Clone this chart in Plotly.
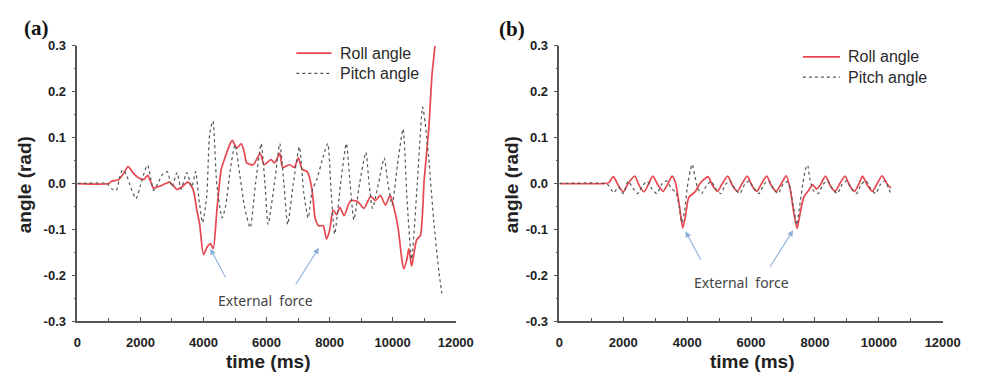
import plotly.graph_objects as go

# ---------------- data ----------------
# Panel (a)
t_roll_a = [0, 1000, 1085, 1300, 1450, 1610, 1780, 1950, 2110, 2230, 2320, 2420, 2640, 2800, 2920,
            3050, 3160, 3320, 3500, 3630, 3700, 3780, 3880, 4000, 4120, 4220, 4310, 4430, 4560,
            4660, 4800, 4910, 5060, 5200, 5300, 5370, 5580, 5800, 5920, 6140, 6260, 6420, 6510,
            6730, 6880, 7010, 7130, 7290, 7440, 7540, 7650, 7800, 7900, 8000, 8110, 8220, 8320,
            8460, 8600, 8680, 8890, 9090, 9300, 9450, 9610, 9770, 9920, 10020, 10170, 10290,
            10350, 10450, 10510, 10600, 10660, 10760, 10880, 11000, 11140, 11250, 11340, 11400]
roll_a = [0, 0, 0.005, 0.008, 0.02, 0.037, 0.022, 0.012, 0.009, 0.018, 0.005, -0.01, -0.005, 0.0,
          0.003, -0.005, -0.013, -0.007, 0.003, -0.007, -0.02, -0.054, -0.089, -0.155, -0.138,
          -0.131, -0.142, -0.054, 0.03, 0.052, 0.079, 0.094, 0.077, 0.087, 0.066, 0.045, 0.041,
          0.066, 0.041, 0.052, 0.045, 0.066, 0.035, 0.041, 0.035, 0.056, 0.031, 0.026, -0.012,
          -0.075, -0.092, -0.092, -0.121, -0.102, -0.058, -0.068, -0.052, -0.07, -0.045, -0.037,
          -0.039, -0.054, -0.028, -0.037, -0.026, -0.047, -0.026, -0.047, -0.096, -0.165, -0.186,
          -0.165, -0.142, -0.18, -0.159, -0.123, -0.113, 0.009, 0.115, 0.24, 0.3, 0.38]

t_pitch_a = [0, 950, 1000, 1100, 1240, 1330, 1430, 1550, 1700, 1860, 2000, 2150, 2230, 2330, 2420,
             2550, 2700, 2850, 3000, 3160, 3290, 3470, 3630, 3750, 3850, 3970, 4100, 4200, 4300,
             4420, 4590, 4700, 4850, 5000, 5150, 5300, 5480, 5650, 5830, 5950, 6050, 6250, 6420,
             6550, 6670, 6850, 7040, 7180, 7320, 7450, 7600, 7800, 7940, 8050, 8160, 8350, 8530,
             8650, 8770, 8950, 9150, 9250, 9360, 9550, 9730, 9850, 9980, 10150, 10330, 10450,
             10600, 10780, 10950, 11050, 11140, 11300, 11470, 11520, 11560]
pitch_a = [0, 0, -0.005, -0.012, -0.015, 0.01, 0.03, 0.02, -0.01, -0.033, -0.005, 0.03, 0.04, 0.01,
           -0.015, 0.0, 0.02, 0.026, -0.007, 0.024, -0.012, 0.024, -0.007, 0.026, -0.03, -0.085,
           -0.03, 0.11, 0.136, 0.0, -0.075, -0.05, 0.03, 0.085, 0.02, -0.05, -0.096, 0.0, 0.087,
           0.0, -0.089, 0.0, 0.087, 0.0, -0.089, 0.0, 0.08, -0.02, -0.075, -0.015, 0.01, 0.06,
           0.087, -0.02, -0.11, 0.0, 0.087, 0.0, -0.079, 0.0, 0.068, 0.0, -0.054, 0.0, 0.056, 0.0,
           -0.047, 0.04, 0.119, -0.03, -0.165, 0.0, 0.167, 0.12, 0.058, -0.08, -0.195, -0.22, -0.24]

# Panel (b)
t_roll_b = [0, 1400, 1550, 1690, 1850, 2000, 2150, 2360, 2500, 2650, 2800, 2920, 3100, 3250, 3400,
            3530, 3640, 3760, 3860, 3950, 4050, 4250, 4400, 4650, 4800, 4950, 5100, 5270, 5420,
            5570, 5720, 5880, 6030, 6180, 6330, 6490, 6640, 6790, 6950, 7100, 7220, 7330, 7440,
            7550, 7650, 7800, 7930, 8050, 8150, 8330, 8480, 8630, 8780, 8940, 9090, 9240, 9380,
            9490, 9650, 9800, 9950, 10100, 10250, 10380]
roll_b = [0, 0, 0.002, 0.015, -0.005, -0.018, 0.0, 0.016, -0.005, -0.018, 0.0, 0.016, -0.005,
          -0.017, 0.0, 0.016, 0.0, -0.05, -0.097, -0.07, -0.03, -0.018, 0.0, 0.015, -0.005, -0.017,
          0.0, 0.016, -0.005, -0.017, 0.0, 0.016, -0.005, -0.017, 0.0, 0.016, -0.005, -0.017, 0.0,
          0.017, -0.01, -0.06, -0.098, -0.06, -0.03, -0.015, -0.003, -0.012, -0.005, 0.016, -0.005,
          -0.017, 0.0, 0.016, -0.005, -0.017, 0.0, 0.016, -0.005, -0.017, 0.0, 0.017, 0.0, -0.01]

t_pitch_b = [0, 1450, 1550, 1700, 1850, 2000, 2150, 2300, 2450, 2600, 2750, 2900, 3050, 3200, 3350,
             3500, 3650, 3750, 3830, 3920, 4000, 4100, 4160, 4230, 4330, 4450, 4600, 4750, 4900,
             5050, 5200, 5350, 5500, 5650, 5800, 5950, 6100, 6250, 6400, 6550, 6700, 6850, 7000,
             7150, 7250, 7350, 7430, 7520, 7620, 7720, 7770, 7840, 7950, 8100, 8250, 8400, 8550,
             8700, 8850, 9000, 9150, 9300, 9450, 9600, 9750, 9900, 10050, 10200, 10300, 10380]
pitch_b = [0, 0, -0.005, -0.02, -0.008, -0.022, 0.005, -0.01, -0.022, -0.005, 0.005, -0.012, -0.022,
           -0.002, 0.006, -0.01, -0.02, -0.05, -0.085, -0.06, -0.01, 0.03, 0.042, 0.02, -0.01,
           -0.022, -0.005, 0.005, -0.012, -0.022, -0.002, 0.006, -0.012, -0.022, -0.002, 0.006,
           -0.012, -0.022, -0.002, 0.006, -0.012, -0.022, -0.002, 0.004, -0.02, -0.06, -0.09, -0.05,
           0.0, 0.035, 0.04, 0.01, -0.015, -0.022, -0.002, 0.006, -0.012, -0.022, -0.002, 0.006,
           -0.012, -0.022, -0.002, 0.006, -0.012, -0.022, -0.002, 0.006, -0.01, -0.022]

x_ticks = [0, 2000, 4000, 6000, 8000, 10000, 12000]
x_ticktext = ["0", "2000", "4000", "6000", "8000", "10000", "12000"]
y_ticks = [-0.3, -0.2, -0.1, 0.0, 0.1, 0.2, 0.3]
y_ticktext = ["-0.3", "-0.2", "-0.1", "0.0", "0.1", "0.2", "0.3"]

series_names = ["Roll angle", "Pitch angle"]
panel_labels = ["(a)", "(b)"]
annotation_text = "External  force"
# arrow tips (time, angle) for each panel
arrow_tips_a = [(4217, -0.142), (7659, -0.140)]
arrow_tips_b = [(3949, -0.104), (7316, -0.102)]

# ---------------- styling ----------------
W, H = 992, 382
ROLL_COLOR = "#e8474f"
PITCH_COLOR = "#555555"
AXIS_COLOR = "#555555"
TEXT_COLOR = "#222222"
ARROW_COLOR = "#8fb0d8"
SANS = "Arial, Liberation Sans, sans-serif"

def px_x(p):
    return p / W

def px_y(p):
    return 1 - p / H

fig = go.Figure()

fig.add_trace(go.Scatter(x=t_roll_a, y=roll_a, mode="lines", line=dict(color=ROLL_COLOR, width=1.7, shape="spline", smoothing=0.6),
                         xaxis="x", yaxis="y", showlegend=False, name=series_names[0]))
fig.add_trace(go.Scatter(x=t_pitch_a, y=pitch_a, mode="lines", line=dict(color=PITCH_COLOR, width=1.2, dash="3px,3px", shape="spline", smoothing=0.6),
                         xaxis="x", yaxis="y", showlegend=False, name=series_names[1]))
fig.add_trace(go.Scatter(x=t_roll_b, y=roll_b, mode="lines", line=dict(color=ROLL_COLOR, width=1.7, shape="spline", smoothing=0.6),
                         xaxis="x2", yaxis="y2", showlegend=False, name=series_names[0]))
fig.add_trace(go.Scatter(x=t_pitch_b, y=pitch_b, mode="lines", line=dict(color=PITCH_COLOR, width=1.2, dash="3px,3px", shape="spline", smoothing=0.6),
                         xaxis="x2", yaxis="y2", showlegend=False, name=series_names[1]))

xaxis_common = dict(range=[0, 12000], tickvals=x_ticks, ticktext=x_ticktext, showline=True, linecolor=AXIS_COLOR,
                    linewidth=1.5, ticks="inside", ticklen=4, tickwidth=1.2, tickcolor=AXIS_COLOR, showgrid=False,
                    zeroline=False, tickfont=dict(family=SANS, size=13, color=TEXT_COLOR, weight="bold"),
                    minor=dict(ticks="inside", ticklen=3, dtick=1000, tick0=0, tickcolor=AXIS_COLOR, showgrid=False),
                    ticklabelstandoff=8, fixedrange=True)
yaxis_common = dict(range=[-0.3, 0.3], tickvals=y_ticks, ticktext=y_ticktext, showline=True, linecolor=AXIS_COLOR,
                    linewidth=1.5, ticks="outside", ticklen=4, tickwidth=1.2, tickcolor=AXIS_COLOR, showgrid=False,
                    zeroline=False, tickfont=dict(family=SANS, size=13, color=TEXT_COLOR, weight="bold"),
                    minor=dict(ticks="outside", ticklen=2, dtick=0.05, tick0=0, tickcolor=AXIS_COLOR, showgrid=False),
                    ticklabelstandoff=3, fixedrange=True)

y_dom = [px_y(327), px_y(40.5)]
fig.update_layout(
    width=W, height=H, margin=dict(l=0, r=0, t=0, b=0),
    paper_bgcolor="white", plot_bgcolor="white",
    xaxis=dict(domain=[px_x(75), px_x(462)], anchor="y", **xaxis_common),
    yaxis=dict(domain=y_dom, anchor="x", **yaxis_common),
    xaxis2=dict(domain=[px_x(568), px_x(960)], anchor="y2", **xaxis_common),
    yaxis2=dict(domain=y_dom, anchor="x2", **yaxis_common),
)

annotations = []
shapes = []

# panel labels
for lab, (cx, cy) in zip(panel_labels, [(33, 22), (520, 23)]):
    annotations.append(dict(text=f"<b>{lab}</b>", x=px_x(cx), y=px_y(cy), xref="paper", yref="paper",
                            xanchor="center", yanchor="middle", showarrow=False,
                            font=dict(family="Liberation Serif, Times New Roman, serif", size=21, color="#111")))

# axis titles
for cx in [21, 519]:
    annotations.append(dict(text="<b>angle (rad)</b>", x=px_x(cx), y=px_y(185), xref="paper", yref="paper",
                            xanchor="center", yanchor="middle", showarrow=False, textangle=-90,
                            font=dict(family=SANS, size=19, color=TEXT_COLOR)))
for cx in [270, 765]:
    annotations.append(dict(text="<b>time (ms)</b>", x=px_x(cx), y=px_y(369), xref="paper", yref="paper",
                            xanchor="center", yanchor="middle", showarrow=False,
                            font=dict(family=SANS, size=19, color=TEXT_COLOR)))

# legends (drawn manually per panel)
for (lx0, lx1, tx, ys) in [(299, 335, 342, (48, 69)), (817, 855, 861, (52, 73))]:
    for name, yy, col, dash, w in zip(series_names, ys, [ROLL_COLOR, PITCH_COLOR], ["solid", "3px,3px"], [1.8, 1.3]):
        shapes.append(dict(type="line", xref="paper", yref="paper", x0=px_x(lx0), x1=px_x(lx1),
                           y0=px_y(yy), y1=px_y(yy), line=dict(color=col, width=w, dash=dash)))
        annotations.append(dict(text=name, x=px_x(tx), y=px_y(yy), xref="paper", yref="paper",
                                xanchor="left", yanchor="middle", showarrow=False,
                                font=dict(family=SANS, size=16, color="#2a2a2a")))

# External force labels
for (cx, cy) in [(267, 305), (754, 287)]:
    annotations.append(dict(text=annotation_text, x=px_x(cx), y=px_y(cy), xref="paper", yref="paper",
                            xanchor="center", yanchor="middle", showarrow=False,
                            font=dict(family="Noto Sans, sans-serif", size=14, color="#444")))

# arrows
offsets = [(16, 30), (-24, 38)]
for (xr, yr, tips) in [("x", "y", arrow_tips_a), ("x2", "y2", arrow_tips_b)]:
    for (tx, ty), (ax, ay) in zip(tips, offsets):
        annotations.append(dict(text="", x=tx, y=ty, xref=xr, yref=yr, ax=ax, ay=ay, showarrow=True,
                                arrowhead=2, arrowsize=1.1, arrowwidth=1.1, arrowcolor=ARROW_COLOR))

fig.update_layout(annotations=annotations, shapes=shapes)
fig.write_html("out.html")
